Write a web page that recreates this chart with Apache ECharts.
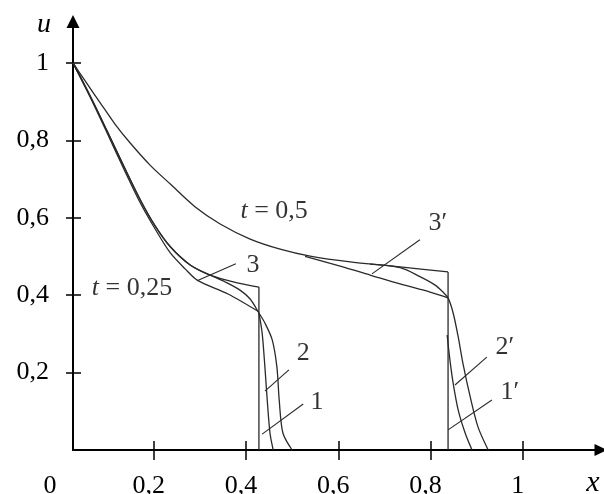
<!DOCTYPE html>
<html>
<head>
<meta charset="utf-8">
<script src="https://cdn.jsdelivr.net/npm/echarts@6/dist/echarts.min.js"></script>
<style>
html, body { margin: 0; padding: 0; background: #fff; }
#chart { width: 604px; height: 494px; }
</style>
</head>
<body>
<div id="chart"></div>
<script>
// t = 0,5 : exact profile + jump
const exact05 = [[0.025, 1], [0.051, 0.954], [0.084, 0.897], [0.116, 0.842], [0.149, 0.793], [0.192, 0.736],
  [0.236, 0.687], [0.29, 0.628], [0.344, 0.584], [0.409, 0.545], [0.474, 0.519], [0.539, 0.501],
  [0.626, 0.486], [0.734, 0.473], [0.838, 0.46]]
const jump05 = [[0.838, 0.46], [0.838, 0]]
// t = 0,25 : exact profile + jump
const exact025 = [[0.025, 1], [0.062, 0.915], [0.099, 0.824], [0.136, 0.731], [0.171, 0.646], [0.203, 0.579],
  [0.236, 0.525], [0.279, 0.478], [0.322, 0.452], [0.381, 0.432], [0.428, 0.421]]
const jump025 = [[0.428, 0.421], [0.428, 0]]

// approximate solutions, t = 0,25
const low025 = [[0.025, 1], [0.062, 0.912], [0.099, 0.819], [0.136, 0.724], [0.171, 0.638], [0.203, 0.571],
  [0.236, 0.509], [0.268, 0.468], [0.294, 0.439], [0.361, 0.403], [0.428, 0.357]]
const low025Tail = [[0.428, 0.354], [0.435, 0.302], [0.441, 0.214], [0.446, 0.129], [0.452, 0.044], [0.459, 0]]
const round025 = [[0.025, 1], [0.062, 0.915], [0.099, 0.824], [0.136, 0.731], [0.171, 0.646], [0.203, 0.579],
  [0.236, 0.525], [0.279, 0.478], [0.322, 0.452], [0.355, 0.434], [0.387, 0.413], [0.409, 0.39], [0.428, 0.354],
  [0.441, 0.328], [0.457, 0.284], [0.467, 0.214], [0.472, 0.129], [0.48, 0.044], [0.5, 0]]

// approximate solutions, t = 0,5
const low05 = [[0.528, 0.5], [0.604, 0.475], [0.669, 0.452], [0.734, 0.429], [0.799, 0.408], [0.838, 0.393]]
const low05Tail = [[0.836, 0.297], [0.842, 0.233], [0.849, 0.173], [0.86, 0.103], [0.875, 0.044], [0.89, 0]]
const round05 = [[0.669, 0.48], [0.734, 0.471], [0.777, 0.448], [0.81, 0.426], [0.827, 0.408], [0.838, 0.393],
  [0.849, 0.354], [0.86, 0.292], [0.87, 0.225], [0.886, 0.137], [0.903, 0.059], [0.925, 0]]

const xTicks = [0.2, 0.4, 0.6, 0.8, 1]
const yTicks = [0.2, 0.4, 0.6, 0.8, 1]

// подписи кривых
const notes = [[0.415, 0.478, '3'], [0.524, 0.251, '2'], [0.554, 0.124, '1'],
  [0.816, 0.587, '3′'], [0.961, 0.266, '2′'], [0.972, 0.15, '1′'],
  [0.461, 0.618, 't = 0,5'], [0.153, 0.419, 't = 0,25']]
const leaders = [
  [[0.378, 0.481], [0.294, 0.437]], [[0.493, 0.207], [0.441, 0.152]], [[0.524, 0.119], [0.435, 0.041]],
  [[0.777, 0.543], [0.673, 0.455]], [[0.922, 0.24], [0.853, 0.168]], [[0.933, 0.129], [0.838, 0.052]]]

const FONT = 'Liberation Serif'
const INK = '#2a2a2a'
const fmt = v => (v === 1 ? '1' : v.toFixed(1).replace('.', ','))

const chart = echarts.init(document.getElementById('chart'))

const curve = (data, smooth) => ({
  type: 'line', data: data, smooth: smooth, symbol: 'none', silent: true,
  lineStyle: { color: INK, width: 1.3 }
})

const X_MIN = 0.025, X_MAX = 1.1695, Y_MAX = 1.107

chart.setOption({
  animation: false,
  // подписи выходят за нижний край, как на оригинале
  grid: { left: 73, right: 3, top: 21.5, bottom: 44, outerBoundsMode: 'none', containLabel: false },
  xAxis: [
    {
      type: 'value', min: X_MIN, max: X_MAX, position: 'bottom',
      splitLine: { show: false },
      axisLine: { onZero: false, symbol: ['none', 'triangle'], symbolSize: [12, 13],
        lineStyle: { color: '#000', width: 2 } },
      axisTick: { customValues: xTicks, length: 10, lineStyle: { color: '#000', width: 1.5 } },
      axisLabel: {
        customValues: [X_MIN].concat(xTicks), margin: 23,
        fontFamily: FONT, fontSize: 26, color: '#000', padding: [0, 10, 0, 0],
        formatter: v => (v < 0.1 ? '{z|0}' : fmt(v)),
        rich: { z: { fontFamily: FONT, fontSize: 26, color: '#000', padding: [0, 36, 0, 0] } }
      },
      name: 'x', nameLocation: 'end', nameGap: -8,
      nameTextStyle: { fontFamily: FONT, fontSize: 30, fontStyle: 'italic', color: '#000',
        align: 'center', verticalAlign: 'top', padding: [18, 0, 0, 0] }
    },
    {
      type: 'value', min: X_MIN, max: X_MAX, position: 'bottom',
      splitLine: { show: false }, axisLine: { show: false, onZero: false }, axisLabel: { show: false },
      axisTick: { customValues: xTicks, inside: true, length: 9, lineStyle: { color: '#000', width: 1.5 } }
    }
  ],
  yAxis: [
    {
      type: 'value', min: 0, max: Y_MAX, position: 'left',
      splitLine: { show: false },
      axisLine: { onZero: false, symbol: ['none', 'triangle'], symbolSize: [13, 13],
        lineStyle: { color: '#000', width: 2 } },
      axisTick: { customValues: yTicks, length: 7, lineStyle: { color: '#000', width: 1.5 } },
      axisLabel: { customValues: yTicks, margin: 24, fontFamily: FONT, fontSize: 26, color: '#000', formatter: fmt },
      name: 'u', nameLocation: 'end', nameGap: -3,
      nameTextStyle: { fontFamily: FONT, fontSize: 28, fontStyle: 'italic', color: '#000',
        align: 'right', verticalAlign: 'middle', padding: [0, 22, 0, 0] }
    },
    {
      type: 'value', min: 0, max: Y_MAX, position: 'left',
      splitLine: { show: false }, axisLine: { show: false, onZero: false }, axisLabel: { show: false },
      axisTick: { customValues: yTicks, inside: true, length: 8, lineStyle: { color: '#000', width: 1.5 } }
    }
  ],
  series: [
    curve(exact05, 0.3), curve(jump05, false),
    curve(exact025, 0.3), curve(jump025, false),
    curve(low025, 0.3), curve(low025Tail, 0.3), curve(round025, 0.3),
    curve(low05, 0.3), curve(low05Tail, 0.3), curve(round05, 0.3),
    {
      type: 'lines', coordinateSystem: 'cartesian2d', silent: true,
      data: leaders.map(c => ({ coords: c })),
      lineStyle: { color: INK, width: 1.1, opacity: 1, curveness: 0 }
    },
    {
      type: 'scatter', symbolSize: 0, silent: true,
      data: notes.map(n => ({
        value: [n[0], n[1]],
        label: { formatter: n[2].replace(/^t/, '{i|t}') }
      })),
      label: {
        show: true, position: 'inside', fontFamily: FONT, fontSize: 26, color: '#000',
        rich: { i: { fontFamily: FONT, fontSize: 26, fontStyle: 'italic', color: '#000' } }
      }
    }
  ]
})
</script>
</body>
</html>
